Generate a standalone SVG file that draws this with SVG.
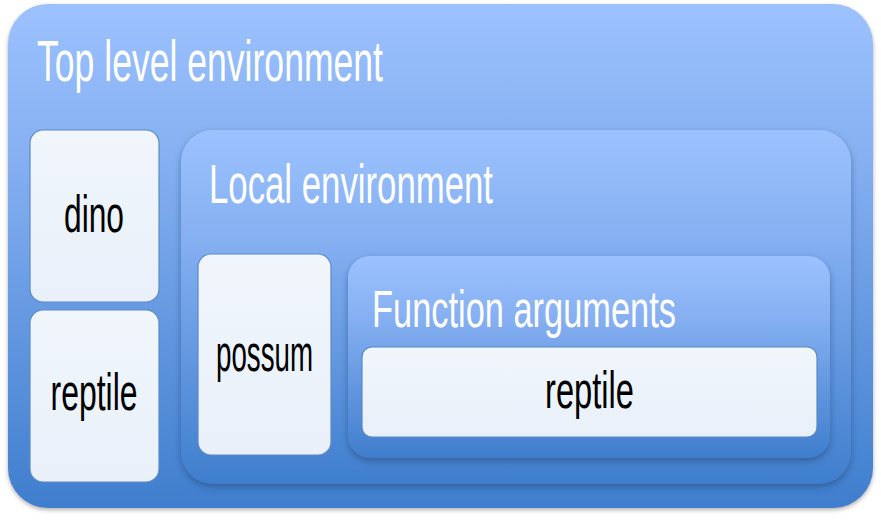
<svg xmlns="http://www.w3.org/2000/svg" width="881" height="520" viewBox="0 0 881 520">
<defs>
<linearGradient id="gBlue" x1="0" y1="0" x2="0" y2="1">
<stop offset="0" stop-color="#9cc2fe"/>
<stop offset="0.3" stop-color="#86b0f2"/>
<stop offset="1" stop-color="#3f7ecd"/>
</linearGradient>
<linearGradient id="gWhite" x1="0" y1="0" x2="0" y2="1">
<stop offset="0" stop-color="#f1f6fd"/>
<stop offset="1" stop-color="#e9f0f9"/>
</linearGradient>
<filter id="sh" x="-10%" y="-10%" width="120%" height="125%">
<feDropShadow dx="0" dy="3" stdDeviation="3" flood-color="#1c3a66" flood-opacity="0.5"/>
</filter>
<filter id="sh2" x="-10%" y="-10%" width="120%" height="125%">
<feDropShadow dx="0" dy="2" stdDeviation="2" flood-color="#7a7a7a" flood-opacity="0.6"/>
</filter>
</defs>
<style>
.env{fill:url(#gBlue);}
.box{fill:url(#gWhite);stroke:#5b8ac6;stroke-width:1.2;}
.hd{font-family:"Liberation Sans",Arial,sans-serif;fill:#ffffff;}
.lb{font-family:"Liberation Sans",Arial,sans-serif;fill:#000000;text-anchor:middle;}
</style>
<g id="top-level">
<rect class="env" x="8" y="4" width="865" height="504" rx="40" filter="url(#sh2)"/>
<text class="hd" x="37" y="81" font-size="58" textLength="346" lengthAdjust="spacingAndGlyphs">Top level environment</text>
</g>
<g id="dino">
<rect class="box" x="30" y="130" width="129" height="172" rx="13"/>
<text class="lb" x="94" y="232" font-size="52" textLength="60" lengthAdjust="spacingAndGlyphs">dino</text>
</g>
<g id="reptile-top">
<rect class="box" x="30" y="310" width="129" height="172" rx="13"/>
<text class="lb" x="94" y="410" font-size="52" textLength="87" lengthAdjust="spacingAndGlyphs">reptile</text>
</g>
<g id="local">
<rect class="env" x="181" y="130" width="670" height="354" rx="32" filter="url(#sh)"/>
<text class="hd" x="209" y="203" font-size="56" textLength="284" lengthAdjust="spacingAndGlyphs">Local environment</text>
</g>
<g id="possum">
<rect class="box" x="198" y="254" width="133" height="201" rx="13"/>
<text class="lb" x="264.5" y="371" font-size="52" textLength="97" lengthAdjust="spacingAndGlyphs">possum</text>
</g>
<g id="function-args">
<rect class="env" x="348" y="256" width="482" height="202" rx="22" filter="url(#sh)"/>
<text class="hd" x="372" y="327" font-size="52" textLength="304" lengthAdjust="spacingAndGlyphs">Function arguments</text>
</g>
<g id="reptile-arg">
<rect class="box" x="362" y="347" width="455" height="90" rx="10"/>
<text class="lb" x="589.5" y="408" font-size="52" textLength="89" lengthAdjust="spacingAndGlyphs">reptile</text>
</g>
<g id="connectors"></g>
</svg>
